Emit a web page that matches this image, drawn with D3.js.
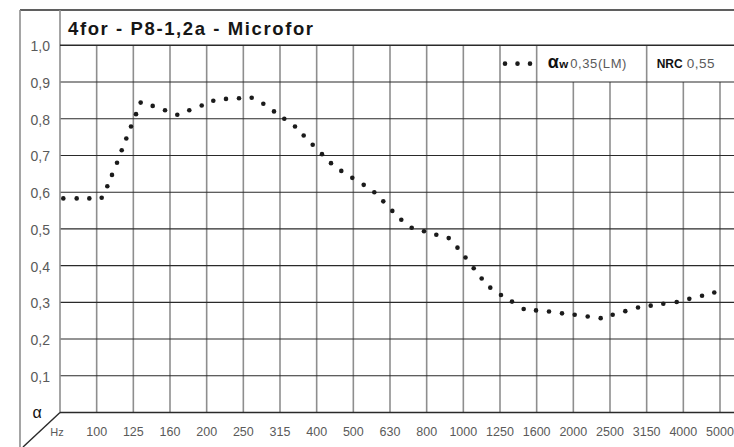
<!DOCTYPE html>
<html><head><meta charset="utf-8">
<script src="https://cdn.jsdelivr.net/npm/d3@7"></script>
<style>
body{margin:0;background:#fff;}
svg{display:block;font-family:"Liberation Sans",Arial,sans-serif;}
</style>
</head><body><svg id="c" width="734" height="447"></svg>
<script>
const title = "4for - P8-1,2a - Microfor";
const freqLabels = ["Hz","100","125","160","200","250","315","400","500","630","800","1000","1250","1600","2000","2500","3150","4000","5000"];
const yTicks = [0.1,0.2,0.3,0.4,0.5,0.6,0.7,0.8,0.9,1.0];
const yLabels = ["0,1","0,2","0,3","0,4","0,5","0,6","0,7","0,8","0,9","1,0"];
// dot positions in 1/3-octave band units (0 = 80 Hz, 1 = 100 Hz, ...) and absorption values
const dotBand = [0.09,0.455,0.80,1.137,1.29,1.418,1.555,1.683,1.808,1.936,2.073,2.20,2.528,2.864,3.199,3.526,3.865,4.181,4.527,4.882,5.228,5.545,5.836,6.117,6.409,6.646,6.892,7.145,7.391,7.672,7.972,8.283,8.572,8.817,9.063,9.308,9.592,9.927,10.263,10.601,10.84,11.059,11.283,11.5,11.735,12.027,12.327,12.646,12.982,13.336,13.691,14.037,14.392,14.746,15.073,15.417,15.764,16.11,16.454,16.819,17.163,17.51,17.844];
const dotAlpha = [0.583,0.583,0.583,0.585,0.616,0.647,0.680,0.714,0.746,0.779,0.8125,0.844,0.835,0.823,0.811,0.823,0.836,0.849,0.854,0.856,0.857,0.841,0.820,0.800,0.779,0.7545,0.729,0.7035,0.679,0.658,0.639,0.620,0.600,0.575,0.549,0.525,0.503,0.4935,0.484,0.475,0.449,0.422,0.393,0.365,0.340,0.320,0.302,0.282,0.278,0.275,0.270,0.266,0.2615,0.257,0.266,0.276,0.286,0.291,0.296,0.301,0.3095,0.318,0.327];
const legendAlphaW = "0,35(LM)";
const legendNRC = "0,55";

const svg = d3.select("#c");
const x = d3.scaleLinear().domain([0, 18]).range([60, 720]);
const y = d3.scaleLinear().domain([0, 1]).range([412.5, 45.3]);
const W = 734;
const gridGray = "#8e8e8e", dark = "#2a2a2a", labelGray = "#5a5a5a";
const legendTop = y(1), legendBot = y(0.9);
const legendDividers = [12, 13, 16];

// vertical gridlines
svg.append("g").selectAll("line").data(d3.range(1, 19)).join("line")
  .attr("x1", d => x(d)).attr("x2", d => x(d))
  .attr("y1", d => (d > 12 && !legendDividers.includes(d)) ? legendBot : legendTop)
  .attr("y2", y(0))
  .attr("stroke", gridGray).attr("stroke-width", 1.6);

// horizontal gridlines
svg.append("g").selectAll("line").data(yTicks.slice(0, 9)).join("line")
  .attr("x1", x(0)).attr("x2", W)
  .attr("y1", d => y(d)).attr("y2", d => y(d))
  .attr("stroke", dark).attr("stroke-width", 1.1);

// frame
svg.append("line").attr("x1", 20).attr("x2", W).attr("y1", 10).attr("y2", 10).attr("stroke", dark).attr("stroke-width", 1.6);
svg.append("line").attr("x1", 20).attr("x2", 20).attr("y1", 10).attr("y2", 447).attr("stroke", gridGray).attr("stroke-width", 1.6);
svg.append("line").attr("x1", x(0)).attr("x2", x(0)).attr("y1", 10).attr("y2", y(0)).attr("stroke", gridGray).attr("stroke-width", 1.6);
svg.append("line").attr("x1", x(0)).attr("x2", W).attr("y1", y(1)).attr("y2", y(1)).attr("stroke", dark).attr("stroke-width", 1.6);
svg.append("line").attr("x1", x(0)).attr("x2", W).attr("y1", y(0)).attr("y2", y(0)).attr("stroke", dark).attr("stroke-width", 1.6);
svg.append("line").attr("x1", x(0)).attr("y1", y(0)).attr("x2", 23).attr("y2", 447).attr("stroke", dark).attr("stroke-width", 1.4);

// title
svg.append("text").attr("x", 68).attr("y", 34.5).attr("font-size", 18.5).attr("font-weight", "bold")
  .attr("fill", "#161616").attr("letter-spacing", 1.6).text(title);

// y labels
svg.append("g").selectAll("text").data(yTicks).join("text")
  .attr("x", 50).attr("y", d => y(d) + 6).attr("text-anchor", "end")
  .attr("font-size", 14).attr("fill", labelGray)
  .text((d, i) => yLabels[i]);

// x labels
svg.append("g").selectAll("text").data(freqLabels).join("text")
  .attr("x", (d, i) => i === 0 ? x(i) - 3 : x(i)).attr("y", 436)
  .attr("text-anchor", "middle")
  .attr("font-size", (d, i) => i === 0 ? 11 : 12.5).attr("fill", labelGray)
  .text(d => d);

// alpha symbol in corner
svg.append("text").attr("x", 37).attr("y", 418).attr("text-anchor", "middle")
  .attr("font-size", 16).attr("fill", "#111").text("α");

// data dots
svg.append("g").selectAll("circle").data(dotBand).join("circle")
  .attr("cx", d => x(d)).attr("cy", (d, i) => y(dotAlpha[i]))
  .attr("r", 2.3).attr("fill", "#1b1b1b");

// legend
const lx = x(12), ly = (legendTop + legendBot) / 2;
svg.append("g").selectAll("circle").data([0, 1, 2]).join("circle")
  .attr("cx", d => lx + 5 + d * 12.5).attr("cy", ly).attr("r", 2.3).attr("fill", "#1b1b1b");
const t1 = svg.append("text").attr("x", x(13) + 11).attr("y", ly + 4.5);
t1.append("tspan").attr("font-size", 18).attr("font-weight", "bold").attr("fill", "#111").text("α");
t1.append("tspan").attr("font-size", 11.5).attr("font-weight", "bold").attr("fill", "#111").attr("dx", 0.5).text("w");
t1.append("tspan").attr("font-size", 13).attr("fill", labelGray).attr("dx", 2).attr("letter-spacing", 0.6).text(legendAlphaW);
const t2 = svg.append("text").attr("x", x(16) + 10).attr("y", ly + 4.5);
t2.append("tspan").attr("font-size", 12).attr("font-weight", "bold").attr("fill", "#111").text("NRC");
t2.append("tspan").attr("font-size", 13.5).attr("fill", labelGray).attr("dx", 4).attr("letter-spacing", 0.5).text(legendNRC);
</script>
</body></html>
